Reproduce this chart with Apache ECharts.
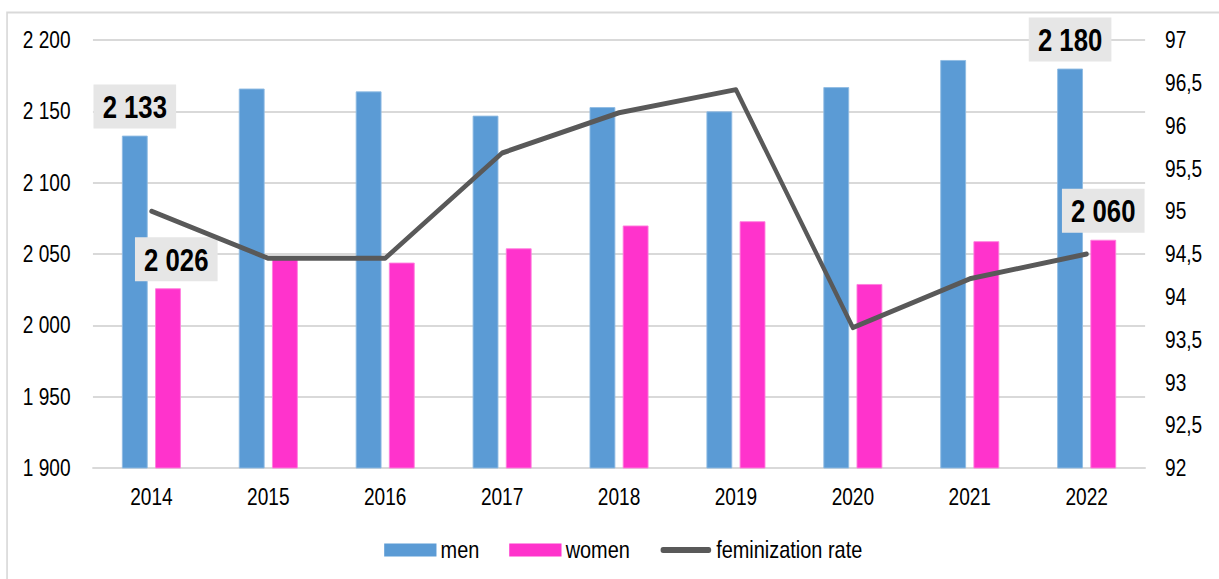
<!DOCTYPE html>
<html>
<head>
<meta charset="utf-8">
<script src="https://cdn.jsdelivr.net/npm/echarts@6/dist/echarts.min.js"></script>
<style>
  html, body { margin: 0; padding: 0; background: #ffffff; overflow: hidden; }
  /* drawn wide, then condensed horizontally so the type reads as a narrow face */
  #chart { width: 1469px; height: 579px; transform: scaleX(0.8298); transform-origin: 0 0; }
</style>
</head>
<body>
<div id="chart"></div>
<script>
// Population by sex (left axis) and feminization rate (right axis)
var years = ['2014', '2015', '2016', '2017', '2018', '2019', '2020', '2021', '2022'];
var men = [2133, 2166, 2164, 2147, 2153, 2150, 2167, 2186, 2180];
var women = [2026, 2047, 2044, 2054, 2070, 2073, 2029, 2059, 2060];
var feminizationRate = [95.0, 94.45, 94.45, 95.68, 96.15, 96.42, 93.64, 94.21, 94.5];
var labelledYears = ['2014', '2022'];

var FONT = '"Liberation Sans", Arial, sans-serif';

function groupThousands(v) {
  return String(v).replace(/\B(?=(\d{3})+(?!\d))/g, ' ');
}

var valueLabel = {
  show: true,
  position: 'top',
  distance: 7,
  fontFamily: FONT,
  fontSize: 31,
  fontWeight: 'bold',
  color: '#000000',
  backgroundColor: '#e6e6e6',
  padding: [7, 11, 6, 11],
  formatter: function (p) { return groupThousands(p.value); }
};

function withEndLabels(values, offsets) {
  return values.map(function (v, i) {
    if (labelledYears.indexOf(years[i]) === -1) return v;
    var lbl = Object.assign({}, valueLabel);
    if (offsets && offsets[years[i]]) lbl.offset = offsets[years[i]];
    return { value: v, label: lbl };
  });
}

// thick round-ended stroke used as the legend key of the rate line
var lineKey = 'path://M0,0 M63,13 M4,3.5 L59,3.5 A3,3 0 0 1 59,9.5 L4,9.5 A3,3 0 0 1 4,3.5 Z';

var chart = echarts.init(document.getElementById('chart'), null, { renderer: 'svg' });

chart.setOption({
  animation: false,
  backgroundColor: '#ffffff',
  textStyle: { fontFamily: FONT },
  graphic: [{
    type: 'rect',
    left: 6, top: 10,
    shape: { width: 1520, height: 620 },
    style: { fill: 'none', stroke: '#d9d9d9', lineWidth: 2 },
    silent: true
  }],
  grid: { left: 112, right: 89, top: 40, bottom: 111, containLabel: false },
  legend: {
    top: 533,
    left: 458,
    itemGap: 36,
    itemWidth: 63,
    itemHeight: 13,
    itemStyle: { borderWidth: 0 },
    textStyle: { fontFamily: FONT, fontSize: 24, color: '#000000' },
    data: [
      { name: 'men', icon: 'rect' },
      { name: 'women', icon: 'rect' },
      { name: 'feminization rate', icon: lineKey }
    ]
  },
  xAxis: {
    type: 'category',
    data: years,
    axisTick: { show: false },
    axisLine: { show: true, lineStyle: { color: '#d9d9d9', width: 2 } },
    axisLabel: { margin: 17, fontFamily: FONT, fontSize: 23, color: '#000000' }
  },
  yAxis: [{
    type: 'value',
    min: 1900, max: 2200, interval: 50,
    axisLine: { show: false },
    axisTick: { show: false },
    splitLine: { lineStyle: { color: '#d9d9d9', width: 2 } },
    axisLabel: {
      margin: 27, fontFamily: FONT, fontSize: 23, color: '#000000',
      formatter: function (v) { return groupThousands(v); }
    }
  }, {
    type: 'value',
    min: 92, max: 97, interval: 0.5,
    axisLine: { show: false },
    axisTick: { show: false },
    splitLine: { show: false },
    axisLabel: {
      margin: 24, fontFamily: FONT, fontSize: 23, color: '#000000',
      formatter: function (v) { return String(v).replace('.', ','); }
    }
  }],
  series: [{
    name: 'men',
    type: 'bar',
    barWidth: 31,
    barGap: '29%',
    itemStyle: { color: '#5b9bd5', borderColor: '#8fbbe3', borderWidth: 1 },
    data: withEndLabels(men)
  }, {
    name: 'women',
    type: 'bar',
    barWidth: 31,
    itemStyle: { color: '#ff33cc', borderColor: '#ff7fdd', borderWidth: 1 },
    data: withEndLabels(women, { '2014': [10, 0] })
  }, {
    name: 'feminization rate',
    type: 'line',
    yAxisIndex: 1,
    symbol: 'none',
    z: 5,
    lineStyle: { color: '#595959', width: 5, cap: 'round', join: 'round' },
    itemStyle: { color: '#595959' },
    data: feminizationRate
  }]
});
</script>
</body>
</html>
